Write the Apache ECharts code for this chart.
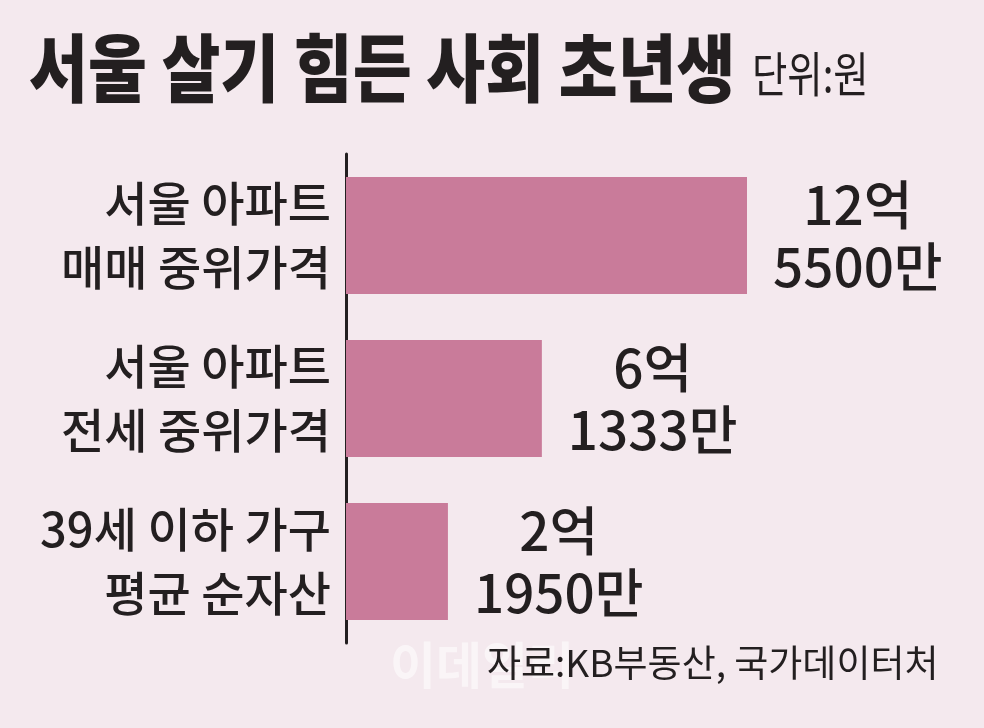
<!DOCTYPE html>
<html>
<head>
<meta charset="utf-8">
<script src="https://cdn.jsdelivr.net/npm/echarts@6/dist/echarts.min.js"></script>
<style>
  html, body { margin: 0; padding: 0; background: #f4e9ee; }
  #chart { width: 984px; height: 728px; }
</style>
</head>
<body>
<div id="chart"></div>
<script>
const categories = ['서울 아파트\n매매 중위가격', '서울 아파트\n전세 중위가격', '39세 이하 가구\n평균 순자산'];
// 금액, 만원 단위
const amounts = [125500, 61333, 21950];
// bar lengths as drawn in the graphic (the smallest bar is drawn longer than scale)
const drawnLengths = [125500, 61300, 31900];

const KR = "'Noto Sans CJK KR', 'Noto Sans', sans-serif";

const chart = echarts.init(document.getElementById('chart'));

function fmt(v) {
    const eok = Math.floor(v / 10000);
    const man = v % 10000;
    return '{a|' + eok + '억}\n{a|' + man + '만}';
}

const option = {
    backgroundColor: '#f4e9ee',
    animation: false,
    grid: { left: 346, right: 237, top: 154, bottom: 85 },
    xAxis: {
        type: 'value',
        min: 0,
        max: 125500,
        show: false
    },
    yAxis: {
        type: 'category',
        inverse: true,
        data: categories,
        axisLine: { show: true, lineStyle: { color: '#231f20', width: 3 } },
        axisTick: { show: false },
        axisLabel: {
            margin: 15,
            color: '#231f20',
            fontFamily: KR,
            fontWeight: 500,
            fontSize: 47,
            lineHeight: 64,
            align: 'right'
        }
    },
    series: [{
        type: 'bar',
        barWidth: 117,
        itemStyle: { color: '#c97b9a' },
        data: drawnLengths,
        label: {
            show: true,
            position: 'right',
            distance: 26,
            formatter: p => fmt(amounts[p.dataIndex]),
            rich: {
                a: {
                    align: 'center',
                    fontFamily: KR,
                    fontWeight: 500,
                    fontSize: 53,
                    lineHeight: 62,
                    color: '#231f20'
                }
            }
        }
    }],
    graphic: [
        {
            type: 'text',
            x: 29, y: 31,
            scaleX: 0.865,
            style: {
                text: '서울 살기 힘든 사회 초년생',
                font: '900 74px ' + KR,
                fill: '#231f20',
                textVerticalAlign: 'top'
            }
        },
        {
            type: 'text',
            x: 752, y: 50,
            scaleX: 0.8,
            style: {
                text: '단위:원',
                font: '48px ' + KR,
                fill: '#231f20',
                textVerticalAlign: 'top'
            }
        },
        {
            type: 'text',
            x: 390, y: 640,
            style: {
                text: '이데일리',
                font: 'bold 50px ' + KR,
                fill: 'rgba(255,255,255,0.55)',
                textVerticalAlign: 'top'
            }
        },
        {
            type: 'text',
            x: 487, y: 644,
            style: {
                text: '자료:KB부동산, 국가데이터처',
                font: '37px ' + KR,
                fill: '#231f20',
                textVerticalAlign: 'top'
            }
        }
    ]
};

chart.setOption(option);
</script>
</body>
</html>
